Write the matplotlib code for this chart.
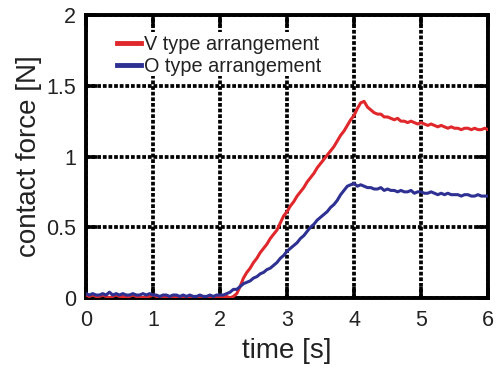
import numpy as np
import matplotlib
matplotlib.use('Agg')
import matplotlib.pyplot as plt
from matplotlib.patches import Rectangle

plt.rcParams['font.family'] = ['Liberation Sans', 'DejaVu Sans']

time = np.round(np.arange(0, 121) * 0.05, 2)

v_type = [
    0.02, 0.01, 0.02, 0.01, 0.01, 0.02, 0.01, 0.00, 0.01, 0.02,
    0.01, 0.01, 0.00, 0.01, 0.02, 0.01, 0.01, 0.00, 0.01, 0.01,
    0.02, 0.01, 0.00, 0.01, 0.01, 0.00, 0.01, 0.01, 0.00, 0.01,
    0.01, 0.00, 0.01, 0.00, 0.01, 0.01, 0.00, 0.01, 0.00, 0.01,
    0.01, 0.00, 0.01, 0.00, 0.01, 0.03, 0.08, 0.14, 0.18, 0.21,
    0.25, 0.28, 0.32, 0.35, 0.38, 0.42, 0.45, 0.48, 0.53, 0.58,
    0.61, 0.65, 0.68, 0.72, 0.75, 0.78, 0.82, 0.85, 0.88, 0.92,
    0.95, 0.98, 1.01, 1.04, 1.07, 1.11, 1.15, 1.18, 1.22, 1.26,
    1.29, 1.34, 1.38, 1.39, 1.35, 1.33, 1.31, 1.30, 1.30, 1.28,
    1.28, 1.27, 1.26, 1.27, 1.25, 1.25, 1.24, 1.25, 1.24, 1.23,
    1.24, 1.23, 1.22, 1.23, 1.22, 1.21, 1.22, 1.21, 1.20, 1.21,
    1.20, 1.20, 1.19, 1.20, 1.20, 1.19, 1.20, 1.19, 1.19, 1.20,
    1.19,
]

o_type = [
    0.03, 0.02, 0.03, 0.02, 0.02, 0.03, 0.02, 0.04, 0.02, 0.03,
    0.02, 0.03, 0.02, 0.02, 0.03, 0.02, 0.02, 0.03, 0.02, 0.03,
    0.02, 0.02, 0.01, 0.02, 0.02, 0.01, 0.02, 0.02, 0.01, 0.02,
    0.01, 0.02, 0.01, 0.01, 0.02, 0.01, 0.01, 0.02, 0.01, 0.02,
    0.02, 0.02, 0.03, 0.04, 0.06, 0.06, 0.08, 0.10, 0.11, 0.12,
    0.14, 0.15, 0.17, 0.18, 0.20, 0.21, 0.23, 0.25, 0.28, 0.30,
    0.33, 0.35, 0.37, 0.39, 0.42, 0.44, 0.47, 0.50, 0.52, 0.55,
    0.57, 0.59, 0.61, 0.64, 0.66, 0.69, 0.73, 0.76, 0.79, 0.80,
    0.81, 0.79, 0.80, 0.79, 0.78, 0.78, 0.77, 0.77, 0.78, 0.76,
    0.77, 0.76, 0.76, 0.75, 0.76, 0.75, 0.75, 0.76, 0.74, 0.75,
    0.75, 0.74, 0.74, 0.75, 0.74, 0.73, 0.74, 0.73, 0.74, 0.73,
    0.73, 0.73, 0.72, 0.73, 0.73, 0.72, 0.72, 0.73, 0.72, 0.72,
    0.72,
]

labels = ['V type arrangement', 'O type arrangement']
colors = ['#e0282c', '#2e3192']
txt = '#222222'

fig = plt.figure(figsize=(4.97, 3.70), dpi=100)
ax = fig.add_axes([0.173, 0.195, 0.809, 0.764])

ax.plot(time, v_type, color=colors[0], lw=2.2, label=labels[0], zorder=3)
ax.plot(time, o_type, color=colors[1], lw=2.2, label=labels[1], zorder=3)

ax.set_xlim(0, 6)
ax.set_ylim(0, 2)
ax.set_xticks(range(7))
ax.set_yticks([0, 0.5, 1, 1.5, 2])
ax.set_yticklabels(['0', '0.5', '1', '1.5', '2'])

ax.grid(True, color='black', linestyle=(0, (1.0, 0.5)), linewidth=2.7)
ax.set_axisbelow(True)
# white patch behind the legend hides the grid there
ax.add_patch(Rectangle((0, 1.57), 3.52, 0.31, facecolor='white',
                       edgecolor='none', zorder=0.8))
for s in ax.spines.values():
    s.set_linewidth(2.8)
ax.tick_params(direction='in', length=8, width=2.6, top=True, right=True,
               labelsize=15.5, labelcolor=txt)
ax.tick_params(axis='x', pad=9)
ax.tick_params(axis='y', pad=7)

ax.set_xlabel('time [s]', fontsize=20, color=txt, labelpad=5)
ax.set_ylabel('contact force [N]', fontsize=20, color=txt, labelpad=3)

leg = ax.legend(loc='upper left', bbox_to_anchor=(0.078, 0.93), frameon=False,
                fontsize=14.3, handlelength=1.2, handletextpad=0.15,
                labelspacing=0.15, borderaxespad=0, borderpad=0)
for t in leg.get_texts():
    t.set_color(txt)
for l in leg.get_lines():
    l.set_linewidth(3.5)

fig.savefig('out.png', dpi=100)
